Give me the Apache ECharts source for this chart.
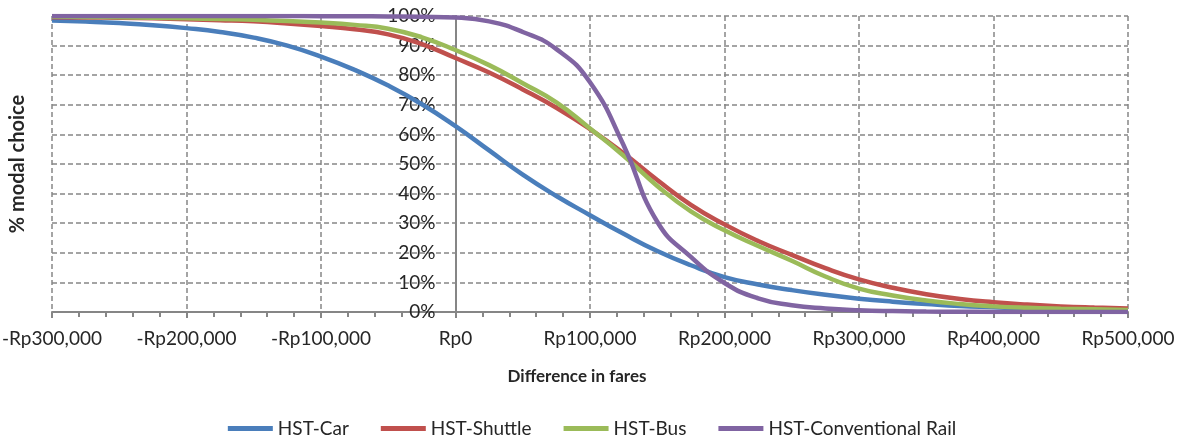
<!DOCTYPE html>
<html>
<head>
<meta charset="utf-8">
<script src="https://cdn.jsdelivr.net/npm/echarts@6/dist/echarts.min.js"></script>
<style>
    html, body { margin: 0; padding: 0; background: #fff; }
    #chart { width: 1184px; height: 445px; }
</style>
</head>
<body>
<div id="chart"></div>
<script>
// difference in fares (Rp), one point every 25,000
const fares = [-300000, -275000, -250000, -225000, -200000, -175000, -150000, -125000,
    -100000, -75000, -50000, -25000, 0, 25000, 50000, 75000, 100000, 125000, 150000,
    175000, 200000, 225000, 250000, 275000, 300000, 325000, 350000, 375000, 400000,
    425000, 450000, 475000, 500000]

// % modal choice
const hstCar = [98.5, 98.1, 97.6, 96.9, 95.9, 94.6, 92.7, 90.0, 86.3, 81.8, 76.5, 70.2, 62.8,
    54.6, 46.4, 39.2, 32.7, 26.4, 20.6, 15.8, 11.8, 9.3, 7.4, 5.8, 4.5, 3.5, 2.7, 2.0, 1.6,
    1.2, 0.9, 0.7, 0.5]
const hstShuttle = [99.6, 99.5, 99.4, 99.2, 98.9, 98.6, 98.2, 97.5, 96.6, 95.5, 93.8, 90.5,
    85.8, 80.9, 75.2, 69.0, 61.8, 53.6, 44.6, 36.2, 29.6, 24.0, 19.3, 14.8, 11.0, 8.2, 6.0,
    4.4, 3.3, 2.5, 1.9, 1.5, 1.2]
const hstBus = [99.8, 99.7, 99.6, 99.4, 99.2, 99.0, 98.7, 98.3, 97.8, 97.0, 95.7, 92.8, 88.5,
    83.4, 77.3, 70.8, 62.0, 52.8, 42.6, 34.0, 27.6, 22.3, 17.3, 12.0, 7.9, 5.6, 3.9, 2.7, 1.9,
    1.4, 1.1, 0.9, 0.7]
const hstRail = [100, 100, 100, 100, 100, 100, 100, 100, 99.95, 99.9, 99.85, 99.75, 99.5, 98.2,
    94.6, 88.8, 77.6, 56.3, 30.5, 18.6, 9.8, 4.6, 2.3, 1.2, 0.6, 0.3, 0.15, 0.08, 0.04, 0.02,
    0.01, 0, 0]

const seriesNames = ['HST-Car', 'HST-Shuttle', 'HST-Bus', 'HST-Conventional Rail']
const seriesColors = ['#4a7ebb', '#c0504d', '#9bbb59', '#8064a2']

const font = 'Lato, "Open Sans", sans-serif'
const gridColor = '#868686'

// plot box in px, the y axis sits on Rp0
const gridLeft = 52
const gridRight = 56
const plotWidth = 1184 - gridLeft - gridRight
const zeroOffset = plotWidth * 300000 / 800000

function fmtRp(v) {
    const s = 'Rp' + Math.abs(v).toLocaleString('en-US')
    return v < 0 ? '-' + s : s
}

const chart = echarts.init(document.getElementById('chart'), null, { renderer: 'canvas' })

chart.setOption({
    animation: false,
    textStyle: { fontFamily: font },
    grid: { left: gridLeft, right: gridRight, top: 16, bottom: 133, containLabel: false, outerBoundsMode: 'none' },
    legend: {
        bottom: 2,
        left: 'center',
        icon: 'rect',
        itemWidth: 45,
        itemHeight: 5,
        itemGap: 32,
        textStyle: { fontFamily: font, fontSize: 19, color: '#262626' },
        data: seriesNames
    },
    xAxis: {
        type: 'value',
        min: -300000,
        max: 500000,
        interval: 100000,
        name: 'Difference in fares',
        nameLocation: 'middle',
        nameGap: 56,
        nameTextStyle: { fontFamily: font, fontSize: 17, fontWeight: 'bold', color: '#262626', padding: [0, 26, 0, 0] },
        axisLine: { lineStyle: { color: gridColor, width: 2 } },
        axisTick: { show: true, length: 6, lineStyle: { color: gridColor, width: 2 } },
        minorTick: { show: true, splitNumber: 5, length: 5, lineStyle: { color: gridColor, width: 2 } },
        axisLabel: { formatter: fmtRp, margin: 17, fontSize: 19, color: '#262626' },
        splitLine: { show: true, lineStyle: { color: gridColor, width: 1.5, type: [5, 3] } }
    },
    yAxis: {
        type: 'value',
        position: 'left',
        offset: -zeroOffset,
        min: 0,
        max: 100,
        interval: 10,
        name: '% modal choice',
        nameLocation: 'middle',
        nameGap: zeroOffset + gridLeft - 28,
        nameTextStyle: { fontFamily: font, fontSize: 20, fontWeight: 'bold', color: '#262626' },
        axisLine: { show: true, onZero: false, lineStyle: { color: gridColor, width: 2 } },
        axisTick: { show: false },
        axisLabel: { formatter: v => v + '%', margin: 20, fontSize: 19, color: '#262626' },
        splitLine: { show: true, lineStyle: { color: gridColor, width: 1.5, type: [5, 3] } }
    },
    series: [hstCar, hstShuttle, hstBus, hstRail].map((vals, i) => ({
        name: seriesNames[i],
        type: 'line',
        smooth: true,
        showSymbol: false,
        color: seriesColors[i],
        lineStyle: { width: 4.5, color: seriesColors[i] },
        data: fares.map((x, j) => [x, vals[j]])
    }))
})
</script>
</body>
</html>
